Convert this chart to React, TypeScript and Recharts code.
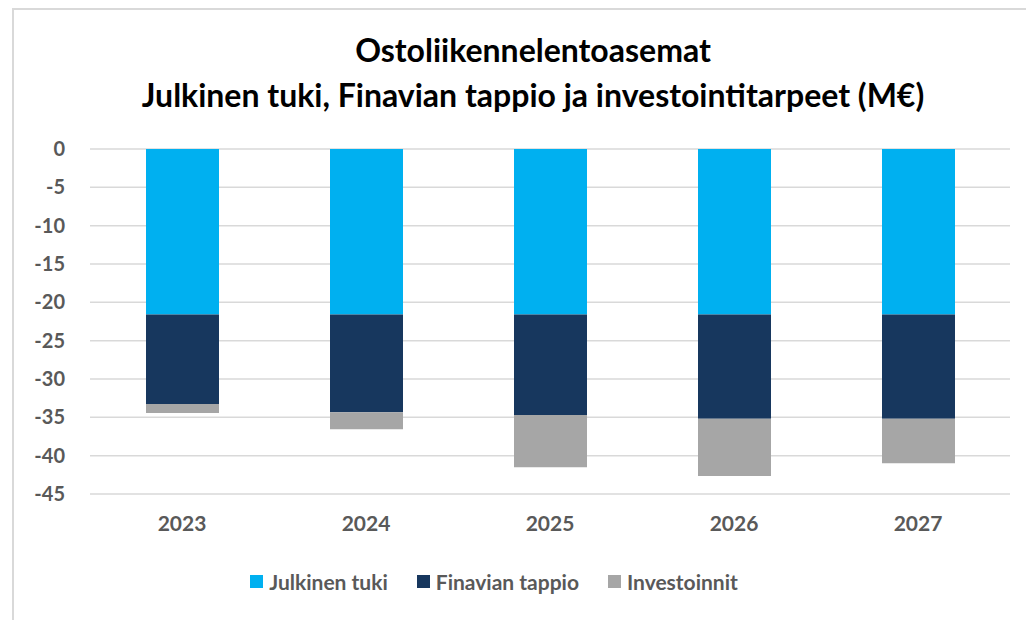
import React from 'react';
import { BarChart, Bar, XAxis, YAxis, CartesianGrid } from 'recharts';

const years = ['2023', '2024', '2025', '2026', '2027'];
const julkinenTuki = [-21.6, -21.6, -21.6, -21.6, -21.6];
const finavianTappio = [-11.65, -12.75, -13.1, -13.6, -13.6];
const investoinnit = [-1.2, -2.2, -6.8, -7.45, -5.8];
const yTicks = [0, -5, -10, -15, -20, -25, -30, -35, -40, -45];

const series = [
  { key: 'julkinen', name: 'Julkinen tuki', color: '#00B0F0' },
  { key: 'finavia', name: 'Finavian tappio', color: '#17375E' },
  { key: 'invest', name: 'Investoinnit', color: '#A6A6A6' },
];

const data = years.map((year, i) => ({
  year,
  julkinen: julkinenTuki[i],
  finavia: finavianTappio[i],
  invest: investoinnit[i],
}));

const font = 'Lato, "Open Sans", sans-serif';
const gray = '#595959';

const App: React.FC = () => {
  return (
    <div style={{ position: 'absolute', left: 0, top: 0, width: 1026, height: 620, background: '#fff', fontFamily: font }}>
      <div
        style={{
          position: 'absolute', left: 12, top: 8, width: 1014, height: 612,
          borderTop: '2px solid #d9d9d9', borderLeft: '2px solid #d9d9d9', boxSizing: 'border-box',
        }}
      />
      <div style={{ position: 'absolute', left: 0, top: 27, width: 1066, textAlign: 'center', fontWeight: 700, fontSize: 32, lineHeight: '45px', color: '#000' }}>
        Ostoliikennelentoasemat
        <br />
        Julkinen tuki, Finavian tappio ja investointitarpeet (M€)
      </div>
      <div style={{ position: 'absolute', left: 0, top: 0 }}>
        <BarChart width={1026} height={620} data={data} margin={{ top: 149, right: 16, left: 0, bottom: 0 }}>
          <CartesianGrid vertical={false} stroke="#d9d9d9" strokeWidth={1.5} />
          <XAxis
            dataKey="year"
            height={126}
            axisLine={false}
            tickLine={false}
            tickSize={0}
            tickMargin={22}
            tick={{ fill: gray, fontSize: 21, fontWeight: 700, fontFamily: font }}
          />
          <YAxis
            type="number"
            domain={[-45, 0]}
            ticks={yTicks}
            interval={0}
            width={90}
            axisLine={false}
            tickLine={false}
            tickSize={0}
            tickMargin={25}
            tick={{ fill: gray, fontSize: 20, fontWeight: 700, fontFamily: font }}
          />
          {series.map((s) => (
            <Bar key={s.key} dataKey={s.key} name={s.name} stackId="a" fill={s.color} barSize={73} isAnimationActive={false} />
          ))}
        </BarChart>
      </div>
      <div style={{ position: 'absolute', left: 0, top: 569, width: 1026, display: 'flex', justifyContent: 'center' }}>
        <div style={{ display: 'flex', gap: 29, marginLeft: -38 }}>
          {series.map((s) => (
            <div key={s.key} style={{ display: 'flex', alignItems: 'center', gap: 6, fontSize: 21, fontWeight: 700, color: gray }}>
              <span style={{ display: 'inline-block', width: 13, height: 13, background: s.color }} />
              {s.name}
            </div>
          ))}
        </div>
      </div>
    </div>
  );
};

export default App;
